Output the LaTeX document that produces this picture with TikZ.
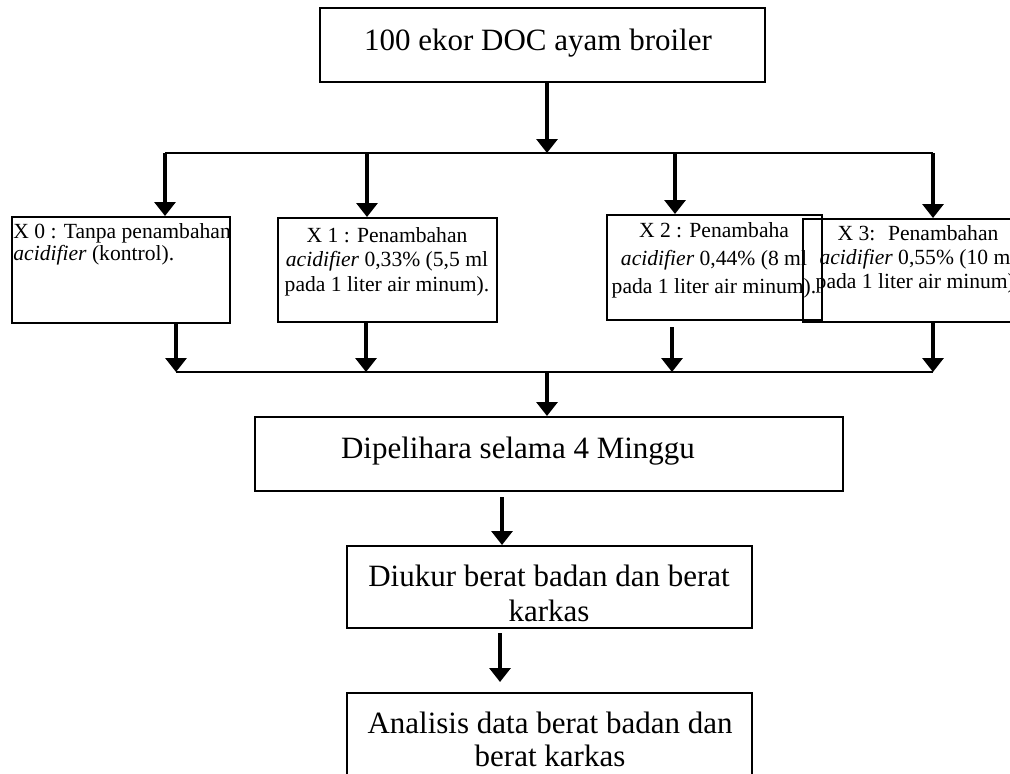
\documentclass[tikz,border=0pt]{standalone}
\usepackage{fontspec}
\setmainfont{Liberation Serif}
\usetikzlibrary{arrows.meta}
\begin{document}
\begin{tikzpicture}[x=0.5pt,y=-0.5pt,
  >={Triangle[width=10.5pt,length=7pt]},
  box/.style={draw,line width=1pt,inner sep=0pt},
  bigtxt/.style={inner sep=0pt,font=\fontsize{15.5}{17.5}\selectfont},
  smalltxt/.style={inner sep=0pt,font=\fontsize{10.8}{12.5}\selectfont},
  arr/.style={->,line width=1.6pt},
  bus/.style={line width=1.2pt}]
\clip (0,0) rectangle (1010,773);
% kotak
\node[box,minimum width=222.5pt,minimum height=37pt] (doc) at (542.5,45) {};
\node[box,minimum width=109pt,minimum height=53pt] (x0) at (121,270) {};
\node[box,minimum width=109.5pt,minimum height=52pt] (x1) at (387.5,270) {};
\node[box,minimum width=107.5pt,minimum height=52.5pt] (x2) at (714.5,267.5) {};
\node[box,minimum width=113.5pt,minimum height=51.5pt] (x3) at (916.5,270.5) {};
\node[box,minimum width=294pt,minimum height=37pt] (pelihara) at (549,454) {};
\node[box,minimum width=202.5pt,minimum height=41pt] (ukur) at (549.5,587) {};
\node[box,minimum width=202.5pt,minimum height=50pt] (analisis) at (549.5,743) {};
% teks
\node[bigtxt,anchor=base] (tdoc) at (538,50) {100 ekor DOC ayam broiler};
\node[smalltxt,anchor=north west,align=left,font=\fontsize{10.8}{11}\selectfont] (tx0) at (13,223)
  {X 0 : Tanpa penambahan\\\textit{acidifier} (kontrol).};
\node[smalltxt,anchor=north,align=center,font=\fontsize{10.8}{12.25}\selectfont] (tx1) at (387,227)
  {X 1 : Penambahan\\\textit{acidifier} 0,33\% (5,5 ml\\pada 1 liter air minum).};
\node[smalltxt,anchor=north,align=center,font=\fontsize{10.8}{14}\selectfont] (tx2) at (714,222)
  {X 2 : Penambaha\\\textit{acidifier} 0,44\% (8 ml\\pada 1 liter air minum).};
\node[smalltxt,anchor=north,align=center,font=\fontsize{10.8}{12}\selectfont] (tx3) at (918,225)
  {X 3:~ Penambahan\\\textit{acidifier} 0,55\% (10 ml\\pada 1 liter air minum).};
\node[bigtxt,anchor=base] (tpelihara) at (518,458) {Dipelihara selama 4 Minggu};
\node[bigtxt,anchor=north,align=center] (tukur) at (549,565)
  {Diukur berat badan dan berat\\karkas};
\node[bigtxt,anchor=north,align=center,font=\fontsize{15.5}{16.5}\selectfont] (tanalisis) at (550,712)
  {Analisis data berat badan dan\\berat karkas};
% garis percabangan
\coordinate (j1) at (547,153);
\coordinate (j2) at (547,372);
\coordinate (j3) at (502,497);
\coordinate (j4) at (500,633);
\draw[arr] (j1 |- doc.south) -- (j1);
\draw[bus] (165,153) coordinate (b0) -- (933,153) coordinate (b3);
\foreach \b/\x in {x0/165,x1/367,x2/675,x3/933}
  \draw[arr] (\x,153) -- (\x,153 |- \b.north);
\draw[bus] (176,372) coordinate (u0) -- (933,372) coordinate (u3);
\foreach \b/\x/\s in {x0/176/0,x1/366/0,x2/672/3,x3/933/0}
  \draw[arr,shorten <=\s pt] (\x,372 |- \b.south) -- (\x,372);
\draw[arr] (j2) -- (j2 |- pelihara.north);
\draw[arr] (j3) -- (j3 |- ukur.north);
\draw[arr,shorten >=5pt] (j4) -- (j4 |- analisis.north);
\end{tikzpicture}
\end{document}
